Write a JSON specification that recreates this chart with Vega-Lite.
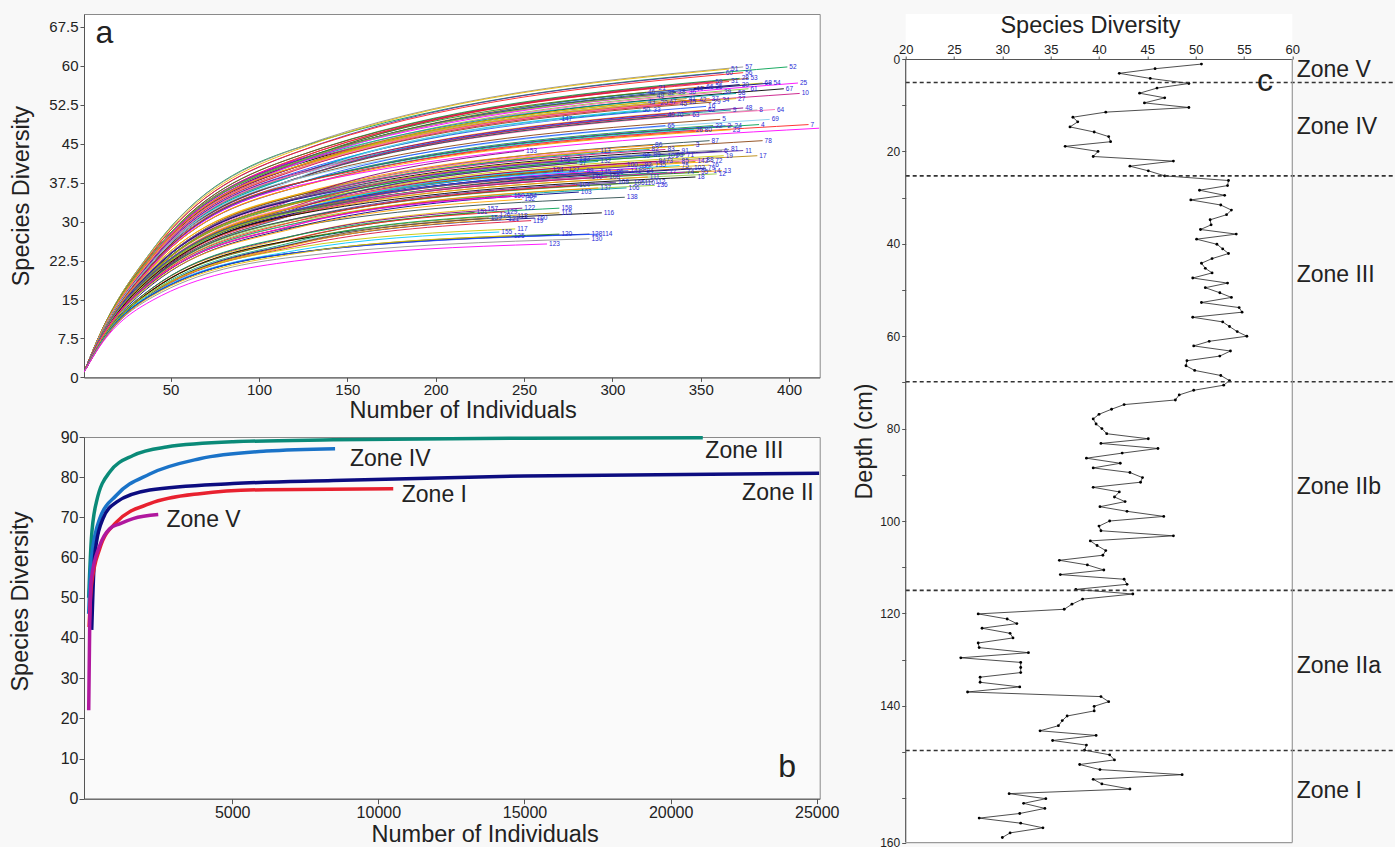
{
"$schema": "https://vega.github.io/schema/vega-lite/v6.json",
"background": "#f8f8f8",
"padding": {"left": 7, "top": 13, "right": 0, "bottom": 0},
"config": {"font": "Liberation Sans", "axis": {"grid": false, "domainColor": "#555555", "tickColor": "#555555", "labelColor": "#222222", "titleColor": "#222222", "titleFontWeight": "normal", "titleFontSize": 23.5, "labelFlush": false, "labelOverlap": false}},
"datasets": {
"curves": [
{"c":52,"x":1,"y":1},{"c":52,"x":10,"y":8.3},{"c":52,"x":40,"y":24.7},{"c":52,"x":120,"y":44},{"c":52,"x":399,"y":59.8,"e":1},
{"c":57,"x":1,"y":1},{"c":57,"x":10,"y":8.3},{"c":57,"x":40,"y":24.7},{"c":57,"x":120,"y":44},{"c":57,"x":374,"y":59.8,"e":1},
{"c":51,"x":1,"y":1},{"c":51,"x":10,"y":8.3},{"c":51,"x":40,"y":24.5},{"c":51,"x":120,"y":43.7},{"c":51,"x":366,"y":59.4,"e":1},
{"c":60,"x":1,"y":1},{"c":60,"x":10,"y":8.2},{"c":60,"x":40,"y":24.2},{"c":60,"x":120,"y":43.2},{"c":60,"x":363,"y":58.7,"e":1},
{"c":56,"x":1,"y":1},{"c":56,"x":10,"y":8.2},{"c":56,"x":40,"y":24.2},{"c":56,"x":120,"y":43.2},{"c":56,"x":374,"y":58.7,"e":1},
{"c":28,"x":1,"y":1},{"c":28,"x":10,"y":8},{"c":28,"x":40,"y":23.8},{"c":28,"x":120,"y":42.4},{"c":28,"x":372,"y":57.6,"e":1},
{"c":53,"x":1,"y":1},{"c":53,"x":10,"y":8},{"c":53,"x":40,"y":23.8},{"c":53,"x":120,"y":42.4},{"c":53,"x":377,"y":57.6,"e":1},
{"c":59,"x":1,"y":1},{"c":59,"x":10,"y":7.9},{"c":59,"x":40,"y":23.5},{"c":59,"x":120,"y":41.9},{"c":59,"x":357,"y":56.9,"e":1},
{"c":31,"x":1,"y":1},{"c":31,"x":10,"y":7.9},{"c":31,"x":40,"y":23.5},{"c":31,"x":120,"y":42},{"c":31,"x":366,"y":57,"e":1},
{"c":68,"x":1,"y":1},{"c":68,"x":10,"y":7.9},{"c":68,"x":40,"y":23.4},{"c":68,"x":120,"y":41.7},{"c":68,"x":385,"y":56.7,"e":1},
{"c":54,"x":1,"y":1},{"c":54,"x":10,"y":7.9},{"c":54,"x":40,"y":23.4},{"c":54,"x":120,"y":41.7},{"c":54,"x":390,"y":56.7,"e":1},
{"c":25,"x":1,"y":1},{"c":25,"x":10,"y":7.9},{"c":25,"x":40,"y":23.4},{"c":25,"x":120,"y":41.7},{"c":25,"x":405,"y":56.7,"e":1},
{"c":66,"x":1,"y":1},{"c":66,"x":10,"y":7.8},{"c":66,"x":40,"y":23.1},{"c":66,"x":120,"y":41.2},{"c":66,"x":352,"y":56,"e":1},
{"c":35,"x":1,"y":1},{"c":35,"x":10,"y":7.8},{"c":35,"x":40,"y":23.1},{"c":35,"x":120,"y":41.2},{"c":35,"x":357,"y":56,"e":1},
{"c":30,"x":1,"y":1},{"c":30,"x":10,"y":7.8},{"c":30,"x":40,"y":23.3},{"c":30,"x":120,"y":41.5},{"c":30,"x":372,"y":56.4,"e":1},
{"c":61,"x":1,"y":1},{"c":61,"x":10,"y":7.7},{"c":61,"x":40,"y":23},{"c":61,"x":120,"y":40.9},{"c":61,"x":377,"y":55.6,"e":1},
{"c":67,"x":1,"y":1},{"c":67,"x":10,"y":7.7},{"c":67,"x":40,"y":23},{"c":67,"x":120,"y":40.9},{"c":67,"x":397,"y":55.6,"e":1},
{"c":21,"x":1,"y":1},{"c":21,"x":10,"y":7.8},{"c":21,"x":40,"y":23},{"c":21,"x":120,"y":41.1},{"c":21,"x":325,"y":55.8,"e":1},
{"c":44,"x":1,"y":1},{"c":44,"x":10,"y":7.7},{"c":44,"x":40,"y":23},{"c":44,"x":120,"y":40.9},{"c":44,"x":346,"y":55.6,"e":1},
{"c":39,"x":1,"y":1},{"c":39,"x":10,"y":7.6},{"c":39,"x":40,"y":22.7},{"c":39,"x":120,"y":40.5},{"c":39,"x":362,"y":55,"e":1},
{"c":10,"x":1,"y":1},{"c":10,"x":10,"y":8.2},{"c":10,"x":40,"y":23.8},{"c":10,"x":120,"y":41.3},{"c":10,"x":406,"y":54.7,"e":1},
{"c":58,"x":1,"y":1},{"c":58,"x":10,"y":8.2},{"c":58,"x":40,"y":23.8},{"c":58,"x":120,"y":41.3},{"c":58,"x":370,"y":54.7,"e":1},
{"c":46,"x":1,"y":1},{"c":46,"x":10,"y":8.2},{"c":46,"x":40,"y":23.9},{"c":46,"x":120,"y":41.4},{"c":46,"x":319,"y":54.9,"e":1},
{"c":49,"x":1,"y":1},{"c":49,"x":10,"y":8.1},{"c":49,"x":40,"y":23.6},{"c":49,"x":120,"y":41},{"c":49,"x":324,"y":54.3,"e":1},
{"c":32,"x":1,"y":1},{"c":32,"x":10,"y":8.2},{"c":32,"x":40,"y":23.8},{"c":32,"x":120,"y":41.3},{"c":32,"x":330,"y":54.7,"e":1},
{"c":38,"x":1,"y":1},{"c":38,"x":10,"y":8.2},{"c":38,"x":40,"y":23.9},{"c":38,"x":120,"y":41.4},{"c":38,"x":336,"y":54.9,"e":1},
{"c":36,"x":1,"y":1},{"c":36,"x":10,"y":8.2},{"c":36,"x":40,"y":23.9},{"c":36,"x":120,"y":41.4},{"c":36,"x":342,"y":54.9,"e":1},
{"c":41,"x":1,"y":1},{"c":41,"x":10,"y":8.1},{"c":41,"x":40,"y":23.4},{"c":41,"x":120,"y":40.5},{"c":41,"x":342,"y":53.7,"e":1},
{"c":42,"x":1,"y":1},{"c":42,"x":10,"y":8},{"c":42,"x":40,"y":23.3},{"c":42,"x":120,"y":40.4},{"c":42,"x":348,"y":53.5,"e":1},
{"c":37,"x":1,"y":1},{"c":37,"x":10,"y":8.1},{"c":37,"x":40,"y":23.4},{"c":37,"x":120,"y":40.5},{"c":37,"x":355,"y":53.7,"e":1},
{"c":34,"x":1,"y":1},{"c":34,"x":10,"y":8},{"c":34,"x":40,"y":23.3},{"c":34,"x":120,"y":40.4},{"c":34,"x":361,"y":53.5,"e":1},
{"c":27,"x":1,"y":1},{"c":27,"x":10,"y":8.1},{"c":27,"x":40,"y":23.4},{"c":27,"x":120,"y":40.5},{"c":27,"x":370,"y":53.7,"e":1},
{"c":29,"x":1,"y":1},{"c":29,"x":10,"y":8},{"c":29,"x":40,"y":23.1},{"c":29,"x":120,"y":40},{"c":29,"x":356,"y":53,"e":1},
{"c":43,"x":1,"y":1},{"c":43,"x":10,"y":8},{"c":43,"x":40,"y":23.1},{"c":43,"x":120,"y":40},{"c":43,"x":319,"y":53,"e":1},
{"c":20,"x":1,"y":1},{"c":20,"x":10,"y":7.9},{"c":20,"x":40,"y":23},{"c":20,"x":120,"y":39.9},{"c":20,"x":326,"y":52.9,"e":1},
{"c":47,"x":1,"y":1},{"c":47,"x":10,"y":8},{"c":47,"x":40,"y":23.1},{"c":47,"x":120,"y":40},{"c":47,"x":331,"y":53,"e":1},
{"c":45,"x":1,"y":1},{"c":45,"x":10,"y":7.9},{"c":45,"x":40,"y":22.9},{"c":45,"x":120,"y":39.8},{"c":45,"x":337,"y":52.7,"e":1},
{"c":15,"x":1,"y":1},{"c":15,"x":10,"y":8},{"c":15,"x":40,"y":23.1},{"c":15,"x":120,"y":40},{"c":15,"x":342,"y":53,"e":1},
{"c":16,"x":1,"y":1},{"c":16,"x":10,"y":7.8},{"c":16,"x":40,"y":22.7},{"c":16,"x":120,"y":39.4},{"c":16,"x":353,"y":52.2,"e":1},
{"c":62,"x":1,"y":1},{"c":62,"x":10,"y":7.7},{"c":62,"x":40,"y":22.4},{"c":62,"x":120,"y":38.9},{"c":62,"x":353,"y":51.5,"e":1},
{"c":50,"x":1,"y":1},{"c":50,"x":10,"y":7.7},{"c":50,"x":40,"y":22.4},{"c":50,"x":120,"y":38.9},{"c":50,"x":316,"y":51.5,"e":1},
{"c":33,"x":1,"y":1},{"c":33,"x":10,"y":7.7},{"c":33,"x":40,"y":22.4},{"c":33,"x":120,"y":38.9},{"c":33,"x":322,"y":51.5,"e":1},
{"c":9,"x":1,"y":1},{"c":9,"x":10,"y":7.7},{"c":9,"x":40,"y":22.4},{"c":9,"x":120,"y":38.9},{"c":9,"x":367,"y":51.5,"e":1},
{"c":48,"x":1,"y":1},{"c":48,"x":10,"y":7.8},{"c":48,"x":40,"y":22.6},{"c":48,"x":120,"y":39.2},{"c":48,"x":374,"y":51.9,"e":1},
{"c":8,"x":1,"y":1},{"c":8,"x":10,"y":7.7},{"c":8,"x":40,"y":22.4},{"c":8,"x":120,"y":38.9},{"c":8,"x":382,"y":51.5,"e":1},
{"c":64,"x":1,"y":1},{"c":64,"x":10,"y":7.7},{"c":64,"x":40,"y":22.4},{"c":64,"x":120,"y":39},{"c":64,"x":392,"y":51.6,"e":1},
{"c":40,"x":1,"y":1},{"c":40,"x":10,"y":7.6},{"c":40,"x":40,"y":22},{"c":40,"x":120,"y":38.2},{"c":40,"x":330,"y":50.6,"e":1},
{"c":70,"x":1,"y":1},{"c":70,"x":10,"y":7.6},{"c":70,"x":40,"y":22},{"c":70,"x":120,"y":38.2},{"c":70,"x":335,"y":50.6,"e":1},
{"c":63,"x":1,"y":1},{"c":63,"x":10,"y":7.6},{"c":63,"x":40,"y":22},{"c":63,"x":120,"y":38.2},{"c":63,"x":344,"y":50.6,"e":1},
{"c":147,"x":1,"y":1},{"c":147,"x":10,"y":7.8},{"c":147,"x":40,"y":22.4},{"c":147,"x":120,"y":38.1},{"c":147,"x":270,"y":49.7,"e":1},
{"c":5,"x":1,"y":1},{"c":5,"x":10,"y":7.8},{"c":5,"x":40,"y":22.4},{"c":5,"x":120,"y":38.1},{"c":5,"x":361,"y":49.7,"e":1},
{"c":69,"x":1,"y":1},{"c":69,"x":10,"y":7.8},{"c":69,"x":40,"y":22.4},{"c":69,"x":120,"y":38.1},{"c":69,"x":389,"y":49.7,"e":1},
{"c":65,"x":1,"y":1},{"c":65,"x":10,"y":7.6},{"c":65,"x":40,"y":21.8},{"c":65,"x":120,"y":37.2},{"c":65,"x":330,"y":48.5,"e":1},
{"c":22,"x":1,"y":1},{"c":22,"x":10,"y":7.6},{"c":22,"x":40,"y":21.8},{"c":22,"x":120,"y":37.2},{"c":22,"x":357,"y":48.5,"e":1},
{"c":2,"x":1,"y":1},{"c":2,"x":10,"y":7.6},{"c":2,"x":40,"y":21.8},{"c":2,"x":120,"y":37.2},{"c":2,"x":364,"y":48.5,"e":1},
{"c":24,"x":1,"y":1},{"c":24,"x":10,"y":7.6},{"c":24,"x":40,"y":21.8},{"c":24,"x":120,"y":37.2},{"c":24,"x":368,"y":48.5,"e":1},
{"c":4,"x":1,"y":1},{"c":4,"x":10,"y":7.6},{"c":4,"x":40,"y":21.9},{"c":4,"x":120,"y":37.3},{"c":4,"x":383,"y":48.7,"e":1},
{"c":7,"x":1,"y":1},{"c":7,"x":10,"y":7.6},{"c":7,"x":40,"y":21.9},{"c":7,"x":120,"y":37.3},{"c":7,"x":411,"y":48.7,"e":1},
{"c":26,"x":1,"y":1},{"c":26,"x":10,"y":7.5},{"c":26,"x":40,"y":21.5},{"c":26,"x":120,"y":36.5},{"c":26,"x":346,"y":47.7,"e":1},
{"c":80,"x":1,"y":1},{"c":80,"x":10,"y":7.5},{"c":80,"x":40,"y":21.5},{"c":80,"x":120,"y":36.5},{"c":80,"x":351,"y":47.7,"e":1},
{"c":23,"x":1,"y":1},{"c":23,"x":10,"y":7.5},{"c":23,"x":40,"y":21.5},{"c":23,"x":120,"y":36.5},{"c":23,"x":367,"y":47.7,"e":1},
{"c":1,"x":1,"y":1},{"c":1,"x":10,"y":7.5},{"c":1,"x":40,"y":21.6},{"c":1,"x":120,"y":36.8},{"c":1,"x":417,"y":48},
{"c":87,"x":1,"y":1},{"c":87,"x":10,"y":7.2},{"c":87,"x":40,"y":20.5},{"c":87,"x":120,"y":34.9},{"c":87,"x":355,"y":45.6,"e":1},
{"c":78,"x":1,"y":1},{"c":78,"x":10,"y":7.2},{"c":78,"x":40,"y":20.5},{"c":78,"x":120,"y":34.9},{"c":78,"x":385,"y":45.6,"e":1},
{"c":86,"x":1,"y":1},{"c":86,"x":10,"y":7.6},{"c":86,"x":40,"y":21.2},{"c":86,"x":120,"y":35.1},{"c":86,"x":323,"y":44.7,"e":1},
{"c":3,"x":1,"y":1},{"c":3,"x":10,"y":7.6},{"c":3,"x":40,"y":21.2},{"c":3,"x":120,"y":35.1},{"c":3,"x":346,"y":44.7,"e":1},
{"c":153,"x":1,"y":1},{"c":153,"x":10,"y":7.4},{"c":153,"x":40,"y":20.8},{"c":153,"x":120,"y":34.3},{"c":153,"x":250,"y":43.7,"e":1},
{"c":113,"x":1,"y":1},{"c":113,"x":10,"y":7.4},{"c":113,"x":40,"y":20.8},{"c":113,"x":120,"y":34.3},{"c":113,"x":292,"y":43.7,"e":1},
{"c":82,"x":1,"y":1},{"c":82,"x":10,"y":7.5},{"c":82,"x":40,"y":20.9},{"c":82,"x":120,"y":34.5},{"c":82,"x":321,"y":43.9,"e":1},
{"c":83,"x":1,"y":1},{"c":83,"x":10,"y":7.5},{"c":83,"x":40,"y":20.9},{"c":83,"x":120,"y":34.5},{"c":83,"x":330,"y":43.9,"e":1},
{"c":91,"x":1,"y":1},{"c":91,"x":10,"y":7.4},{"c":91,"x":40,"y":20.8},{"c":91,"x":120,"y":34.3},{"c":91,"x":338,"y":43.7,"e":1},
{"c":6,"x":1,"y":1},{"c":6,"x":10,"y":7.4},{"c":6,"x":40,"y":20.7},{"c":6,"x":120,"y":34.2},{"c":6,"x":362,"y":43.6,"e":1},
{"c":81,"x":1,"y":1},{"c":81,"x":10,"y":7.5},{"c":81,"x":40,"y":20.9},{"c":81,"x":120,"y":34.5},{"c":81,"x":366,"y":43.9,"e":1},
{"c":11,"x":1,"y":1},{"c":11,"x":10,"y":7.4},{"c":11,"x":40,"y":20.8},{"c":11,"x":120,"y":34.3},{"c":11,"x":374,"y":43.7,"e":1},
{"c":90,"x":1,"y":1},{"c":90,"x":10,"y":7.2},{"c":90,"x":40,"y":20.2},{"c":90,"x":120,"y":33.4},{"c":90,"x":316,"y":42.6,"e":1},
{"c":89,"x":1,"y":1},{"c":89,"x":10,"y":7.3},{"c":89,"x":40,"y":20.4},{"c":89,"x":120,"y":33.7},{"c":89,"x":322,"y":42.9,"e":1},
{"c":101,"x":1,"y":1},{"c":101,"x":10,"y":7.3},{"c":101,"x":40,"y":20.3},{"c":101,"x":120,"y":33.5},{"c":101,"x":330,"y":42.7,"e":1},
{"c":93,"x":1,"y":1},{"c":93,"x":10,"y":7.3},{"c":93,"x":40,"y":20.4},{"c":93,"x":120,"y":33.7},{"c":93,"x":335,"y":42.9,"e":1},
{"c":71,"x":1,"y":1},{"c":71,"x":10,"y":7.3},{"c":71,"x":40,"y":20.4},{"c":71,"x":120,"y":33.7},{"c":71,"x":341,"y":42.9,"e":1},
{"c":19,"x":1,"y":1},{"c":19,"x":10,"y":7.3},{"c":19,"x":40,"y":20.3},{"c":19,"x":120,"y":33.5},{"c":19,"x":363,"y":42.7,"e":1},
{"c":17,"x":1,"y":1},{"c":17,"x":10,"y":7.3},{"c":17,"x":40,"y":20.3},{"c":17,"x":120,"y":33.5},{"c":17,"x":382,"y":42.7,"e":1},
{"c":146,"x":1,"y":1},{"c":146,"x":10,"y":7.1},{"c":146,"x":40,"y":19.9},{"c":146,"x":120,"y":32.9},{"c":146,"x":269,"y":41.9,"e":1},
{"c":133,"x":1,"y":1},{"c":133,"x":10,"y":7.1},{"c":133,"x":40,"y":20},{"c":133,"x":120,"y":33},{"c":133,"x":280,"y":42,"e":1},
{"c":132,"x":1,"y":1},{"c":132,"x":10,"y":7.1},{"c":132,"x":40,"y":19.8},{"c":132,"x":120,"y":32.7},{"c":132,"x":292,"y":41.6,"e":1},
{"c":94,"x":1,"y":1},{"c":94,"x":10,"y":7.1},{"c":94,"x":40,"y":19.8},{"c":94,"x":120,"y":32.7},{"c":94,"x":325,"y":41.6,"e":1},
{"c":73,"x":1,"y":1},{"c":73,"x":10,"y":7.1},{"c":73,"x":40,"y":19.8},{"c":73,"x":120,"y":32.7},{"c":73,"x":329,"y":41.6,"e":1},
{"c":85,"x":1,"y":1},{"c":85,"x":10,"y":7.1},{"c":85,"x":40,"y":19.8},{"c":85,"x":120,"y":32.7},{"c":85,"x":338,"y":41.6,"e":1},
{"c":142,"x":1,"y":1},{"c":142,"x":10,"y":7.1},{"c":142,"x":40,"y":19.8},{"c":142,"x":120,"y":32.7},{"c":142,"x":347,"y":41.6,"e":1},
{"c":88,"x":1,"y":1},{"c":88,"x":10,"y":7.1},{"c":88,"x":40,"y":19.9},{"c":88,"x":120,"y":32.9},{"c":88,"x":352,"y":41.9,"e":1},
{"c":72,"x":1,"y":1},{"c":72,"x":10,"y":7.1},{"c":72,"x":40,"y":19.8},{"c":72,"x":120,"y":32.7},{"c":72,"x":357,"y":41.6,"e":1},
{"c":100,"x":1,"y":1},{"c":100,"x":10,"y":7},{"c":100,"x":40,"y":19.4},{"c":100,"x":120,"y":32.1},{"c":100,"x":307,"y":40.9,"e":1},
{"c":97,"x":1,"y":1},{"c":97,"x":10,"y":7},{"c":97,"x":40,"y":19.6},{"c":97,"x":120,"y":32.4},{"c":97,"x":280,"y":41.3,"e":1},
{"c":92,"x":1,"y":1},{"c":92,"x":10,"y":7},{"c":92,"x":40,"y":19.5},{"c":92,"x":120,"y":32.2},{"c":92,"x":317,"y":41,"e":1},
{"c":135,"x":1,"y":1},{"c":135,"x":10,"y":7},{"c":135,"x":40,"y":19.4},{"c":135,"x":120,"y":32.1},{"c":135,"x":323,"y":40.9,"e":1},
{"c":75,"x":1,"y":1},{"c":75,"x":10,"y":6.9},{"c":75,"x":40,"y":19.4},{"c":75,"x":120,"y":32},{"c":75,"x":338,"y":40.8,"e":1},
{"c":76,"x":1,"y":1},{"c":76,"x":10,"y":7},{"c":76,"x":40,"y":19.4},{"c":76,"x":120,"y":32.1},{"c":76,"x":355,"y":40.9,"e":1},
{"c":102,"x":1,"y":1},{"c":102,"x":10,"y":6.9},{"c":102,"x":40,"y":19.1},{"c":102,"x":120,"y":31.6},{"c":102,"x":345,"y":40.3,"e":1},
{"c":98,"x":1,"y":1},{"c":98,"x":10,"y":6.9},{"c":98,"x":40,"y":19.1},{"c":98,"x":120,"y":31.6},{"c":98,"x":314,"y":40.3,"e":1},
{"c":79,"x":1,"y":1},{"c":79,"x":10,"y":6.9},{"c":79,"x":40,"y":19.1},{"c":79,"x":120,"y":31.6},{"c":79,"x":353,"y":40.3,"e":1},
{"c":124,"x":1,"y":1},{"c":124,"x":10,"y":6.8},{"c":124,"x":40,"y":19},{"c":124,"x":120,"y":31.4},{"c":124,"x":265,"y":40,"e":1},
{"c":127,"x":1,"y":1},{"c":127,"x":10,"y":6.8},{"c":127,"x":40,"y":19},{"c":127,"x":120,"y":31.4},{"c":127,"x":274,"y":40,"e":1},
{"c":14,"x":1,"y":1},{"c":14,"x":10,"y":7.4},{"c":14,"x":40,"y":20.1},{"c":14,"x":120,"y":32.2},{"c":14,"x":356,"y":39.8,"e":1},
{"c":13,"x":1,"y":1},{"c":13,"x":10,"y":7.4},{"c":13,"x":40,"y":20.1},{"c":13,"x":120,"y":32.2},{"c":13,"x":362,"y":39.8,"e":1},
{"c":99,"x":1,"y":1},{"c":99,"x":10,"y":7.4},{"c":99,"x":40,"y":20.1},{"c":99,"x":120,"y":32.2},{"c":99,"x":284,"y":39.8,"e":1},
{"c":145,"x":1,"y":1},{"c":145,"x":10,"y":7.3},{"c":145,"x":40,"y":19.9},{"c":145,"x":120,"y":32},{"c":145,"x":292,"y":39.5,"e":1},
{"c":96,"x":1,"y":1},{"c":96,"x":10,"y":7.3},{"c":96,"x":40,"y":19.9},{"c":96,"x":120,"y":32},{"c":96,"x":301,"y":39.5,"e":1},
{"c":141,"x":1,"y":1},{"c":141,"x":10,"y":7.4},{"c":141,"x":40,"y":20.1},{"c":141,"x":120,"y":32.2},{"c":141,"x":309,"y":39.8,"e":1},
{"c":84,"x":1,"y":1},{"c":84,"x":10,"y":7.4},{"c":84,"x":40,"y":20.1},{"c":84,"x":120,"y":32.2},{"c":84,"x":318,"y":39.8,"e":1},
{"c":77,"x":1,"y":1},{"c":77,"x":10,"y":7.3},{"c":77,"x":40,"y":19.9},{"c":77,"x":120,"y":32},{"c":77,"x":331,"y":39.5,"e":1},
{"c":74,"x":1,"y":1},{"c":74,"x":10,"y":7.3},{"c":74,"x":40,"y":19.9},{"c":74,"x":120,"y":32},{"c":74,"x":341,"y":39.5,"e":1},
{"c":95,"x":1,"y":1},{"c":95,"x":10,"y":7.3},{"c":95,"x":40,"y":19.9},{"c":95,"x":120,"y":32},{"c":95,"x":349,"y":39.5,"e":1},
{"c":12,"x":1,"y":1},{"c":12,"x":10,"y":7.3},{"c":12,"x":40,"y":19.8},{"c":12,"x":120,"y":31.8},{"c":12,"x":359,"y":39.2,"e":1},
{"c":140,"x":1,"y":1},{"c":140,"x":10,"y":7.1},{"c":140,"x":40,"y":19.5},{"c":140,"x":120,"y":31.3},{"c":140,"x":287,"y":38.6,"e":1},
{"c":108,"x":1,"y":1},{"c":108,"x":10,"y":7.1},{"c":108,"x":40,"y":19.5},{"c":108,"x":120,"y":31.3},{"c":108,"x":297,"y":38.6,"e":1},
{"c":111,"x":1,"y":1},{"c":111,"x":10,"y":7.1},{"c":111,"x":40,"y":19.5},{"c":111,"x":120,"y":31.3},{"c":111,"x":320,"y":38.6,"e":1},
{"c":18,"x":1,"y":1},{"c":18,"x":10,"y":7.1},{"c":18,"x":40,"y":19.5},{"c":18,"x":120,"y":31.3},{"c":18,"x":347,"y":38.6,"e":1},
{"c":109,"x":1,"y":1},{"c":109,"x":10,"y":7},{"c":109,"x":40,"y":19},{"c":109,"x":120,"y":30.5},{"c":109,"x":302,"y":37.6,"e":1},
{"c":105,"x":1,"y":1},{"c":105,"x":10,"y":6.9},{"c":105,"x":40,"y":18.9},{"c":105,"x":120,"y":30.4},{"c":105,"x":311,"y":37.5,"e":1},
{"c":110,"x":1,"y":1},{"c":110,"x":10,"y":6.9},{"c":110,"x":40,"y":18.9},{"c":110,"x":120,"y":30.4},{"c":110,"x":317,"y":37.5,"e":1},
{"c":112,"x":1,"y":1},{"c":112,"x":10,"y":7},{"c":112,"x":40,"y":19},{"c":112,"x":120,"y":30.5},{"c":112,"x":323,"y":37.7,"e":1},
{"c":136,"x":1,"y":1},{"c":136,"x":10,"y":6.8},{"c":136,"x":40,"y":18.7},{"c":136,"x":120,"y":30},{"c":136,"x":324,"y":37,"e":1},
{"c":104,"x":1,"y":1},{"c":104,"x":10,"y":6.8},{"c":104,"x":40,"y":18.7},{"c":104,"x":120,"y":30},{"c":104,"x":280,"y":37,"e":1},
{"c":137,"x":1,"y":1},{"c":137,"x":10,"y":6.8},{"c":137,"x":40,"y":18.4},{"c":137,"x":120,"y":29.6},{"c":137,"x":292,"y":36.5,"e":1},
{"c":106,"x":1,"y":1},{"c":106,"x":10,"y":6.8},{"c":106,"x":40,"y":18.4},{"c":106,"x":120,"y":29.6},{"c":106,"x":308,"y":36.5,"e":1},
{"c":103,"x":1,"y":1},{"c":103,"x":10,"y":6.6},{"c":103,"x":40,"y":18},{"c":103,"x":120,"y":28.9},{"c":103,"x":281,"y":35.7,"e":1},
{"c":138,"x":1,"y":1},{"c":138,"x":10,"y":7},{"c":138,"x":40,"y":18.5},{"c":138,"x":120,"y":29},{"c":138,"x":307,"y":34.7,"e":1},
{"c":150,"x":1,"y":1},{"c":150,"x":10,"y":7.1},{"c":150,"x":40,"y":18.6},{"c":150,"x":120,"y":29.3},{"c":150,"x":243,"y":35,"e":1},
{"c":154,"x":1,"y":1},{"c":154,"x":10,"y":7.1},{"c":154,"x":40,"y":18.6},{"c":154,"x":120,"y":29.3},{"c":154,"x":250,"y":35,"e":1},
{"c":152,"x":1,"y":1},{"c":152,"x":10,"y":6.9},{"c":152,"x":40,"y":18.2},{"c":152,"x":120,"y":28.7},{"c":152,"x":249,"y":34.3,"e":1},
{"c":157,"x":1,"y":1},{"c":157,"x":10,"y":6.6},{"c":157,"x":40,"y":17.3},{"c":157,"x":120,"y":27.2},{"c":157,"x":228,"y":32.5,"e":1},
{"c":122,"x":1,"y":1},{"c":122,"x":10,"y":6.6},{"c":122,"x":40,"y":17.3},{"c":122,"x":120,"y":27.3},{"c":122,"x":249,"y":32.6,"e":1},
{"c":158,"x":1,"y":1},{"c":158,"x":10,"y":6.6},{"c":158,"x":40,"y":17.3},{"c":158,"x":120,"y":27.3},{"c":158,"x":270,"y":32.6,"e":1},
{"c":151,"x":1,"y":1},{"c":151,"x":10,"y":6.4},{"c":151,"x":40,"y":16.9},{"c":151,"x":120,"y":26.6},{"c":151,"x":222,"y":31.8,"e":1},
{"c":129,"x":1,"y":1},{"c":129,"x":10,"y":6.4},{"c":129,"x":40,"y":17},{"c":129,"x":120,"y":26.7},{"c":129,"x":239,"y":31.9,"e":1},
{"c":115,"x":1,"y":1},{"c":115,"x":10,"y":6.4},{"c":115,"x":40,"y":16.9},{"c":115,"x":120,"y":26.5},{"c":115,"x":270,"y":31.7,"e":1},
{"c":116,"x":1,"y":1},{"c":116,"x":10,"y":6.4},{"c":116,"x":40,"y":16.9},{"c":116,"x":120,"y":26.5},{"c":116,"x":294,"y":31.7,"e":1},
{"c":126,"x":1,"y":1},{"c":126,"x":10,"y":6.3},{"c":126,"x":40,"y":16.6},{"c":126,"x":120,"y":26.1},{"c":126,"x":235,"y":31.2,"e":1},
{"c":118,"x":1,"y":1},{"c":118,"x":10,"y":6.3},{"c":118,"x":40,"y":16.5},{"c":118,"x":120,"y":25.9},{"c":118,"x":245,"y":31,"e":1},
{"c":160,"x":1,"y":1},{"c":160,"x":10,"y":6.2},{"c":160,"x":40,"y":16.3},{"c":160,"x":120,"y":25.7},{"c":160,"x":256,"y":30.7,"e":1},
{"c":159,"x":1,"y":1},{"c":159,"x":10,"y":6.2},{"c":159,"x":40,"y":16.3},{"c":159,"x":120,"y":25.7},{"c":159,"x":230,"y":30.7,"e":1},
{"c":121,"x":1,"y":1},{"c":121,"x":10,"y":6.2},{"c":121,"x":40,"y":16.2},{"c":121,"x":120,"y":25.5},{"c":121,"x":240,"y":30.5,"e":1},
{"c":119,"x":1,"y":1},{"c":119,"x":10,"y":6.1},{"c":119,"x":40,"y":16.1},{"c":119,"x":120,"y":25.2},{"c":119,"x":254,"y":30.2,"e":1},
{"c":117,"x":1,"y":1},{"c":117,"x":10,"y":6.6},{"c":117,"x":40,"y":16.6},{"c":117,"x":120,"y":24.9},{"c":117,"x":245,"y":28.6,"e":1},
{"c":155,"x":1,"y":1},{"c":155,"x":10,"y":6.5},{"c":155,"x":40,"y":16.2},{"c":155,"x":120,"y":24.4},{"c":155,"x":236,"y":28,"e":1},
{"c":120,"x":1,"y":1},{"c":120,"x":10,"y":6.4},{"c":120,"x":40,"y":16},{"c":120,"x":120,"y":24},{"c":120,"x":270,"y":27.6,"e":1},
{"c":128,"x":1,"y":1},{"c":128,"x":10,"y":6.4},{"c":128,"x":40,"y":16},{"c":128,"x":120,"y":24},{"c":128,"x":287,"y":27.6,"e":1},
{"c":114,"x":1,"y":1},{"c":114,"x":10,"y":6.4},{"c":114,"x":40,"y":16},{"c":114,"x":120,"y":24},{"c":114,"x":293,"y":27.6,"e":1},
{"c":125,"x":1,"y":1},{"c":125,"x":10,"y":6.3},{"c":125,"x":40,"y":15.8},{"c":125,"x":120,"y":23.8},{"c":125,"x":243,"y":27.3,"e":1},
{"c":130,"x":1,"y":1},{"c":130,"x":10,"y":6.2},{"c":130,"x":40,"y":15.5},{"c":130,"x":120,"y":23.2},{"c":130,"x":287,"y":26.7,"e":1},
{"c":123,"x":1,"y":1},{"c":123,"x":10,"y":6},{"c":123,"x":40,"y":14.9},{"c":123,"x":120,"y":22.4},{"c":123,"x":263,"y":25.7,"e":1}
],
"zones": [
{"z":"Zone III","x":90,"y":50},{"z":"Zone III","x":183,"y":64.7},{"z":"Zone III","x":354,"y":73.8},{"z":"Zone III","x":810,"y":81.3},{"z":"Zone III","x":1610,"y":85.4},{"z":"Zone III","x":2750,"y":87.5},{"z":"Zone III","x":5030,"y":88.8},{"z":"Zone III","x":8460,"y":89.3},{"z":"Zone III","x":15000,"y":89.7},{"z":"Zone III","x":21100,"y":89.8},
{"z":"Zone IV","x":90,"y":46},{"z":"Zone IV","x":183,"y":59.8},{"z":"Zone IV","x":468,"y":69.7},{"z":"Zone IV","x":1040,"y":75.5},{"z":"Zone IV","x":2180,"y":80.8},{"z":"Zone IV","x":3890,"y":84.6},{"z":"Zone IV","x":6170,"y":86.5},{"z":"Zone IV","x":8520,"y":87.1},
{"z":"Zone II","x":194,"y":42},{"z":"Zone II","x":297,"y":60.6},{"z":"Zone II","x":580,"y":69.7},{"z":"Zone II","x":1040,"y":73.8},{"z":"Zone II","x":2180,"y":76.8},{"z":"Zone II","x":5030,"y":78.4},{"z":"Zone II","x":8460,"y":79.2},{"z":"Zone II","x":15000,"y":80.3},{"z":"Zone II","x":25080,"y":81},
{"z":"Zone I","x":103,"y":42.7},{"z":"Zone I","x":183,"y":53},{"z":"Zone I","x":468,"y":62.2},{"z":"Zone I","x":1040,"y":68.8},{"z":"Zone I","x":2180,"y":73.4},{"z":"Zone I","x":3890,"y":75.9},{"z":"Zone I","x":6170,"y":76.9},{"z":"Zone I","x":10510,"y":77.1},
{"z":"Zone V","x":91,"y":22},{"z":"Zone V","x":125,"y":43.2},{"z":"Zone V","x":183,"y":54.7},{"z":"Zone V","x":468,"y":63},{"z":"Zone V","x":810,"y":67.2},{"z":"Zone V","x":1150,"y":68.4},{"z":"Zone V","x":1610,"y":69.7},{"z":"Zone V","x":2470,"y":70.7}
],
"zlab": [
{"t":"Zone III","x":21188,"y":84.8},{"t":"Zone IV","x":9031,"y":82.9},{"t":"Zone II","x":22445,"y":74.4},{"t":"Zone I","x":10801,"y":73.8},{"t":"Zone V","x":2753,"y":67.6}
],
"prof": [
{"d":1.1,"v":50.6},{"d":2.1,"v":45.8},{"d":3.1,"v":42.1},{"d":4.2,"v":45.3},{"d":5.3,"v":49.3},{"d":6.3,"v":46},{"d":7.4,"v":44.2},{"d":8.4,"v":46.8},{"d":9.5,"v":44.7},{"d":10.5,"v":49.3},
{"d":11.5,"v":40.7},{"d":12.6,"v":37.3},{"d":13.6,"v":37.8},{"d":14.7,"v":37},{"d":15.8,"v":39.5},{"d":16.8,"v":41},{"d":17.9,"v":41.2},{"d":18.9,"v":36.5},{"d":20,"v":39.9},{"d":21.1,"v":39.4},
{"d":22.1,"v":47.7},{"d":23.2,"v":43.2},{"d":24.2,"v":45.1},{"d":25.3,"v":46.8},{"d":26.3,"v":53.4},{"d":27.4,"v":53.3},{"d":28.4,"v":50.4},{"d":29.5,"v":53},{"d":30.5,"v":49.5},{"d":31.6,"v":52.6},
{"d":32.7,"v":53.7},{"d":33.7,"v":53.2},{"d":34.8,"v":51.5},{"d":35.9,"v":51.6},{"d":36.9,"v":50.5},{"d":37.9,"v":54.2},{"d":39,"v":50.1},{"d":40.1,"v":52.2},{"d":41.1,"v":52.8},{"d":42.1,"v":53.4},
{"d":43.2,"v":51.7},{"d":44.2,"v":50.6},{"d":45.3,"v":51},{"d":46.3,"v":51.7},{"d":47.4,"v":49.7},{"d":48.5,"v":53.3},{"d":49.5,"v":51},{"d":50.6,"v":52.5},{"d":51.6,"v":53.7},{"d":52.7,"v":50.6},
{"d":53.8,"v":54.5},{"d":54.8,"v":54.8},{"d":55.9,"v":49.7},{"d":56.9,"v":52.8},{"d":57.9,"v":53.5},{"d":59,"v":54.3},{"d":60,"v":55.3},{"d":61.1,"v":51.4},{"d":62.1,"v":49.8},{"d":63.2,"v":53.6},
{"d":64.3,"v":52.5},{"d":65.3,"v":49.1},{"d":66.4,"v":49},{"d":67.4,"v":49.9},{"d":68.5,"v":52.6},{"d":69.6,"v":53.5},{"d":70.6,"v":52.9},{"d":71.7,"v":49.8},{"d":72.7,"v":48.3},{"d":73.8,"v":47.9},
{"d":74.8,"v":42.6},{"d":75.8,"v":41.3},{"d":76.9,"v":40},{"d":77.9,"v":39.4},{"d":79,"v":39.7},{"d":80,"v":40.3},{"d":81.1,"v":40.8},{"d":82.2,"v":45.1},{"d":83.2,"v":40.2},{"d":84.3,"v":46.1},
{"d":85.3,"v":42.4},{"d":86.4,"v":38.7},{"d":87.5,"v":42.2},{"d":88.5,"v":39.4},{"d":89.5,"v":43.2},{"d":90.6,"v":44.5},{"d":91.6,"v":44.3},{"d":92.7,"v":39.4},{"d":93.7,"v":42.1},{"d":94.8,"v":41.6},
{"d":95.8,"v":42.7},{"d":96.9,"v":40.1},{"d":97.9,"v":42.9},{"d":99,"v":46.7},{"d":100,"v":41.1},{"d":101.1,"v":40},{"d":102.1,"v":40.2},{"d":103.2,"v":47.7},{"d":104.3,"v":39.1},{"d":105.3,"v":39.8},
{"d":106.4,"v":40.7},{"d":107.4,"v":40.4},{"d":108.5,"v":35.9},{"d":109.5,"v":38.8},{"d":110.6,"v":40.5},{"d":111.6,"v":36},{"d":112.6,"v":42.6},{"d":113.7,"v":42.9},{"d":114.8,"v":37.6},{"d":115.8,"v":43.5},
{"d":116.9,"v":38.3},{"d":118,"v":37.2},{"d":119.1,"v":36.4},{"d":120.1,"v":27.5},{"d":121.2,"v":30.5},{"d":122.2,"v":31.5},{"d":123.2,"v":27.9},{"d":124.3,"v":30.8},{"d":125.3,"v":31.1},{"d":126.4,"v":27.5},
{"d":127.4,"v":27.6},{"d":128.5,"v":32.7},{"d":129.6,"v":25.7},{"d":130.6,"v":31.9},{"d":131.7,"v":31.9},{"d":132.8,"v":31.9},{"d":133.8,"v":27.7},{"d":134.9,"v":27.7},{"d":135.9,"v":31.8},{"d":137,"v":26.4},
{"d":138,"v":40.2},{"d":139.1,"v":41},{"d":140.1,"v":39.5},{"d":141.1,"v":39.5},{"d":142.2,"v":36.7},{"d":143.2,"v":36.2},{"d":144.3,"v":35.8},{"d":145.4,"v":33.9},{"d":146.4,"v":39.7},{"d":147.5,"v":35.2},
{"d":148.5,"v":38.7},{"d":149.6,"v":38.5},{"d":150.6,"v":41.1},{"d":151.7,"v":41.6},{"d":152.7,"v":38},{"d":153.8,"v":40.1},{"d":154.9,"v":48.6},{"d":155.9,"v":39.4},{"d":156.9,"v":40.3},{"d":158,"v":43.2},
{"d":159,"v":30.7},{"d":160.1,"v":34.5},{"d":161.1,"v":32.2},{"d":162.2,"v":34.4},{"d":163.3,"v":31.8},{"d":164.3,"v":27.6},{"d":165.4,"v":31.9},{"d":166.4,"v":34.2},{"d":167.5,"v":30.8},{"d":168.5,"v":30}
],
"zb": [{"d":5.07},{"d":25.3},{"d":69.85},{"d":115},{"d":149.65}],
"clab": [{"t":"Zone V","d":3.98},{"t":"Zone IV","d":16.2},{"t":"Zone III","d":48.2},{"t":"Zone IIb","d":94.2},{"t":"Zone IIa","d":132.8},{"t":"Zone I","d":160}]
},
"spacing": 11.7,
"hconcat": [
{
"spacing": 5,
"resolve": {"scale": {"color": "independent"}},
"vconcat": [
{
"width": 735.7, "height": 363.4,
"view": {"fill": "#ffffff", "stroke": "#8a8a8a"},
"layer": [
{"data": {"name": "curves"},
 "mark": {"type": "line", "interpolate": "monotone", "strokeWidth": 0.9, "clip": true},
 "encoding": {
  "x": {"field": "x", "type": "quantitative", "scale": {"domain": [1, 417.3], "nice": false, "zero": false},
        "axis": {"values": [50,100,150,200,250,300,350,400], "title": "Number of Individuals", "labelFontSize": 15, "titleFontSize": 23.5, "tickSize": 4, "labelPadding": 1, "titlePadding": 1, "titleX": 378.7}},
  "y": {"field": "y", "type": "quantitative", "scale": {"domain": [0, 70], "nice": false},
        "axis": {"values": [0,7.5,15,22.5,30,37.5,45,52.5,60,67.5], "labelExpr": "'' + datum.value", "title": "Species Diversity", "labelFontSize": 15, "titleFontSize": 23.5, "tickSize": 4, "labelPadding": 2, "titlePadding": 15}},
  "color": {"field": "c", "type": "nominal", "legend": null,
        "scale": {"range": ["#ff00ff","#00c8ff","#e6b800","#00a050","#8b4513","#000080","#ff2020","#909090","#00a0a0","#c71585","#5a2ca0","#8cc83c","#ff8c00","#2f4f4f","#ff69b4","#1e50ff","#b8860b","#000000","#c8c800","#87ceeb","#dc143c","#228b22","#ffa500","#800080"]}}
 }},
{"data": {"name": "curves"},
 "transform": [{"filter": "datum.e == 1"}],
 "mark": {"type": "text", "fontSize": 6.5, "color": "#2b2bd6", "align": "left", "baseline": "middle", "dx": 2},
 "encoding": {
  "x": {"field": "x", "type": "quantitative", "axis": {"values": [50,100,150,200,250,300,350,400], "title": "Number of Individuals", "labelFontSize": 15, "titleFontSize": 23.5, "tickSize": 4, "labelPadding": 1, "titlePadding": 1, "titleX": 378.7}},
  "y": {"field": "y", "type": "quantitative", "axis": {"values": [0,7.5,15,22.5,30,37.5,45,52.5,60,67.5], "labelExpr": "'' + datum.value", "title": "Species Diversity", "labelFontSize": 15, "titleFontSize": 23.5, "tickSize": 4, "labelPadding": 2, "titlePadding": 15}},
  "text": {"field": "c", "type": "nominal"}}},
{"data": {"values": [{"t": "a"}]},
 "mark": {"type": "text", "fontSize": 32, "color": "#222222", "align": "center", "baseline": "alphabetic"},
 "encoding": {"x": {"datum": 12.6}, "y": {"datum": 64.4}, "text": {"field": "t", "type": "nominal"}}}
]
},
{
"width": 735.7, "height": 361.7,
"view": {"fill": "#fafafa", "stroke": "#8a8a8a"},
"layer": [
{"data": {"name": "zones"},
 "mark": {"type": "line", "interpolate": "monotone", "strokeWidth": 3.5},
 "encoding": {
  "x": {"field": "x", "type": "quantitative", "scale": {"domain": [-70, 25100], "nice": false, "zero": false},
        "axis": {"values": [5000,10000,15000,20000,25000], "format": "d", "title": "Number of Individuals", "labelFontSize": 16, "titleFontSize": 23.5, "tickSize": 5, "labelPadding": 1, "titlePadding": 2, "titleX": 400.7}},
  "y": {"field": "y", "type": "quantitative", "scale": {"domain": [0, 90], "nice": false},
        "axis": {"values": [0,10,20,30,40,50,60,70,80,90], "title": "Species Diversity", "labelFontSize": 16, "titleFontSize": 23.5, "tickSize": 5, "labelPadding": 1, "titlePadding": 28, "titleY": 164}},
  "color": {"field": "z", "type": "nominal", "legend": null,
        "scale": {"domain": ["Zone III","Zone IV","Zone II","Zone I","Zone V"], "range": ["#0a8a78","#1a73c8","#0c0c80","#e8212f","#b0189e"]}}
 }},
{"data": {"name": "zlab"},
 "mark": {"type": "text", "fontSize": 23, "color": "#222222", "align": "left", "baseline": "alphabetic"},
 "encoding": {"x": {"field": "x", "type": "quantitative"}, "y": {"field": "y", "type": "quantitative"}, "text": {"field": "t", "type": "nominal"}}},
{"data": {"values": [{"t": "b"}]},
 "mark": {"type": "text", "fontSize": 32, "color": "#222222", "align": "center", "baseline": "alphabetic"},
 "encoding": {"x": {"datum": 23986}, "y": {"datum": 5.5}, "text": {"field": "t", "type": "nominal"}}}
]
}
]
},
{
"width": 386.6, "height": 828.6,
"view": {"fill": "#ffffff", "stroke": null},
"layer": [
{"data": {"name": "prof"},
 "mark": {"type": "line", "color": "#222222", "strokeWidth": 0.8, "point": {"filled": true, "size": 8, "color": "#000000"}},
 "encoding": {
  "x": {"field": "v", "type": "quantitative", "scale": {"domain": [20, 60], "nice": false, "zero": false},
        "axis": {"orient": "top", "offset": -45, "values": [20,25,30,35,40,45,50,55,60], "title": "Species Diversity", "labelFontSize": 13, "titleFontSize": 23.5, "tickSize": 3, "labelPadding": 0, "titlePadding": 6, "titleX": 184.3}},
  "y": {"field": "d", "type": "quantitative", "scale": {"domain": [-9.74, 169.6], "nice": false, "zero": false, "reverse": true},
        "axis": {"values": [0,10,20,30,40,50,60,70,80,90,100,110,120,130,140,150,160,169.6], "labelExpr": "datum.value > 169 ? '160' : ((datum.value % 20 == 0 && datum.value <= 140) ? datum.label : '')", "domain": false, "title": "Depth (cm)", "labelFontSize": 12, "titleFontSize": 23.5, "tickSize": 4, "labelPadding": 2, "titlePadding": 3, "titleY": 427}},
  "order": {"field": "d", "type": "quantitative"}
 }},
{"data": {"name": "zb"},
 "mark": {"type": "rule", "color": "#333333", "strokeWidth": 1.6, "strokeDash": [4, 3]},
 "encoding": {"y": {"field": "d", "type": "quantitative"}, "x": {"datum": 20}, "x2": {"datum": 70.6}}},
{"data": {"values": [{}]},
 "mark": {"type": "rule", "color": "#555555", "strokeWidth": 1.2},
 "encoding": {"x": {"datum": 20}, "y": {"datum": 0}, "y2": {"datum": 169.6}}},
{"data": {"values": [{}]},
 "mark": {"type": "rule", "color": "#9a9a9a", "strokeWidth": 1.2},
 "encoding": {"x": {"datum": 60}, "y": {"datum": 0}, "y2": {"datum": 169.6}}},
{"data": {"values": [{}]},
 "mark": {"type": "rule", "color": "#9a9a9a", "strokeWidth": 1.2},
 "encoding": {"y": {"datum": 169.6}, "x": {"datum": 20}, "x2": {"datum": 60}}},
{"data": {"name": "clab"},
 "mark": {"type": "text", "fontSize": 23, "color": "#222222", "align": "left", "baseline": "alphabetic"},
 "encoding": {"x": {"datum": 60.45}, "y": {"field": "d", "type": "quantitative"}, "text": {"field": "t", "type": "nominal"}}},
{"data": {"values": [{"t": "c"}]},
 "mark": {"type": "text", "fontSize": 32, "color": "#222222", "align": "center", "baseline": "alphabetic"},
 "encoding": {"x": {"datum": 57.18}, "y": {"datum": 6.86}, "text": {"field": "t", "type": "nominal"}}}
]
}
]
}
